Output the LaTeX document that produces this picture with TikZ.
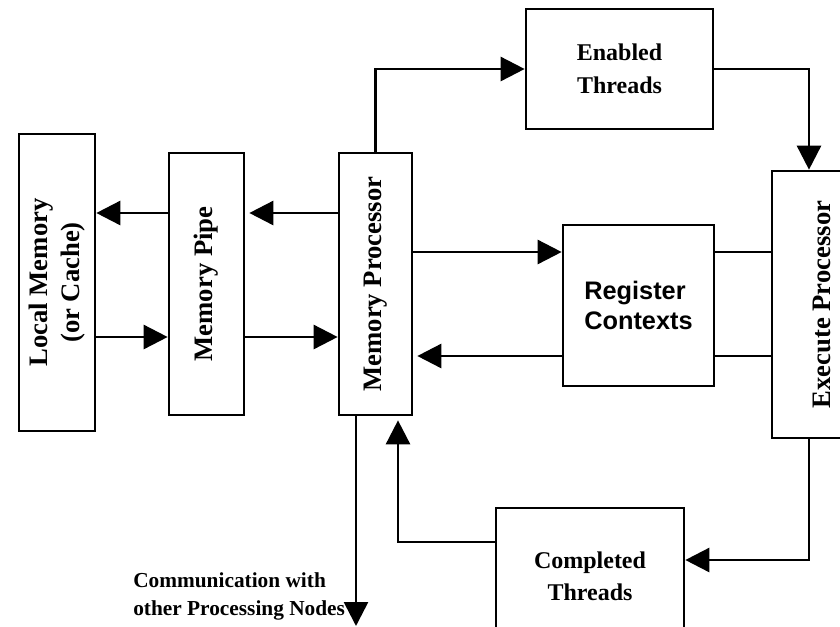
\documentclass[tikz,border=0pt]{standalone}
\usepackage{fontspec}
\setmainfont{Liberation Serif}
\setsansfont{Liberation Sans}
\usetikzlibrary{arrows.meta}

\begin{document}
\begin{tikzpicture}[
  x=0.75pt, y=-0.75pt,
  box/.style={draw, line width=2pt, inner sep=0pt},
  wire/.style={line width=2pt},
  arr/.style={wire, -{Triangle[length=18pt, width=18pt]}},
  vlabel/.style={font=\bfseries\fontsize{20}{24}\selectfont},
  hlabel/.style={font=\bfseries\fontsize{18}{25}\selectfont, align=center},
  rlabel/.style={font=\sffamily\bfseries\fontsize{19}{22}\selectfont, align=left}
]
  \useasboundingbox (0,0) rectangle (840,626);
  \clip (0,0) rectangle (840,626);

  % Boxes
  \node[box, minimum width=57pt, minimum height=222.75pt, vlabel] (lm) at (57,282.5)
    {\rotatebox{90}{\begin{tabular}{@{}c@{}}Local Memory\\(or Cache)\end{tabular}}};
  \node[box, minimum width=56.25pt, minimum height=196.5pt, vlabel] (mp) at (206.5,284)
    {\rotatebox{90}{Memory Pipe}};
  \node[box, minimum width=54.75pt, minimum height=196.5pt, vlabel] (mproc) at (375.5,284)
    {\rotatebox{90}{Memory Processor}};
  \node[box, minimum width=140.25pt, minimum height=90pt, hlabel] (et) at (619.5,69)
    {Enabled\\Threads};
  \node[box, minimum width=113.25pt, minimum height=120.75pt, rlabel] (rc) at (638.5,305.5)
    {Register\\Contexts};
  \node[box, minimum width=75pt, minimum height=200.25pt, vlabel] (ep) at (822,304.5)
    {\rotatebox{90}{Execute Processor}};
  \node[box, minimum width=141pt, minimum height=102pt, hlabel,
    font=\bfseries\fontsize{18}{24}\selectfont] (ct) at (590,576)
    {Completed\\Threads};
  \node[anchor=west, inner sep=0pt, align=left,
    font=\bfseries\fontsize{16}{21}\selectfont] (comm) at (133,596)
    {Communication with\\other Processing Nodes};

  % Levels of the connectors
  \coordinate (up) at (0,213);
  \coordinate (dn) at (0,337);
  \coordinate (rhi) at (0,252);
  \coordinate (rlo) at (0,356);
  \coordinate (ctin) at (0,560);
  \coordinate (ctout) at (0,542);
  \coordinate (epx) at (809,0);
  \coordinate (upx) at (398,0);
  \coordinate (comx) at (356,0);
  \coordinate (comend) at (356,626);

  % Memory side
  \draw[arr] (mp.west |- up) -- (lm.east |- up);
  \draw[arr, shorten >=3pt] (mproc.west |- up) -- (mp.east |- up);
  \draw[arr] (lm.east |- dn) -- (mp.west |- dn);
  \draw[arr] (mp.east |- dn) -- (mproc.west |- dn);

  % Register contexts
  \draw[arr] (mproc.east |- rhi) -- (rc.west |- rhi);
  \draw[wire] (rc.east |- rhi) -- (ep.west |- rhi);
  \draw[arr, shorten >=3pt] (rc.west |- rlo) -- (mproc.east |- rlo);
  \draw[wire] (rc.east |- rlo) -- (ep.west |- rlo);

  % Thread loop
  \draw[arr] (mproc.north) |- (et.west);
  \draw[arr] (et.east) -| (ep.north -| epx);
  \draw[arr] (ep.south -| epx) |- (ct.east |- ctin);
  \draw[arr, shorten >=3pt] (ct.west |- ctout) -| (mproc.south -| upx);
  \draw[arr] (mproc.south -| comx) -- (comend);

\end{tikzpicture}
\end{document}
